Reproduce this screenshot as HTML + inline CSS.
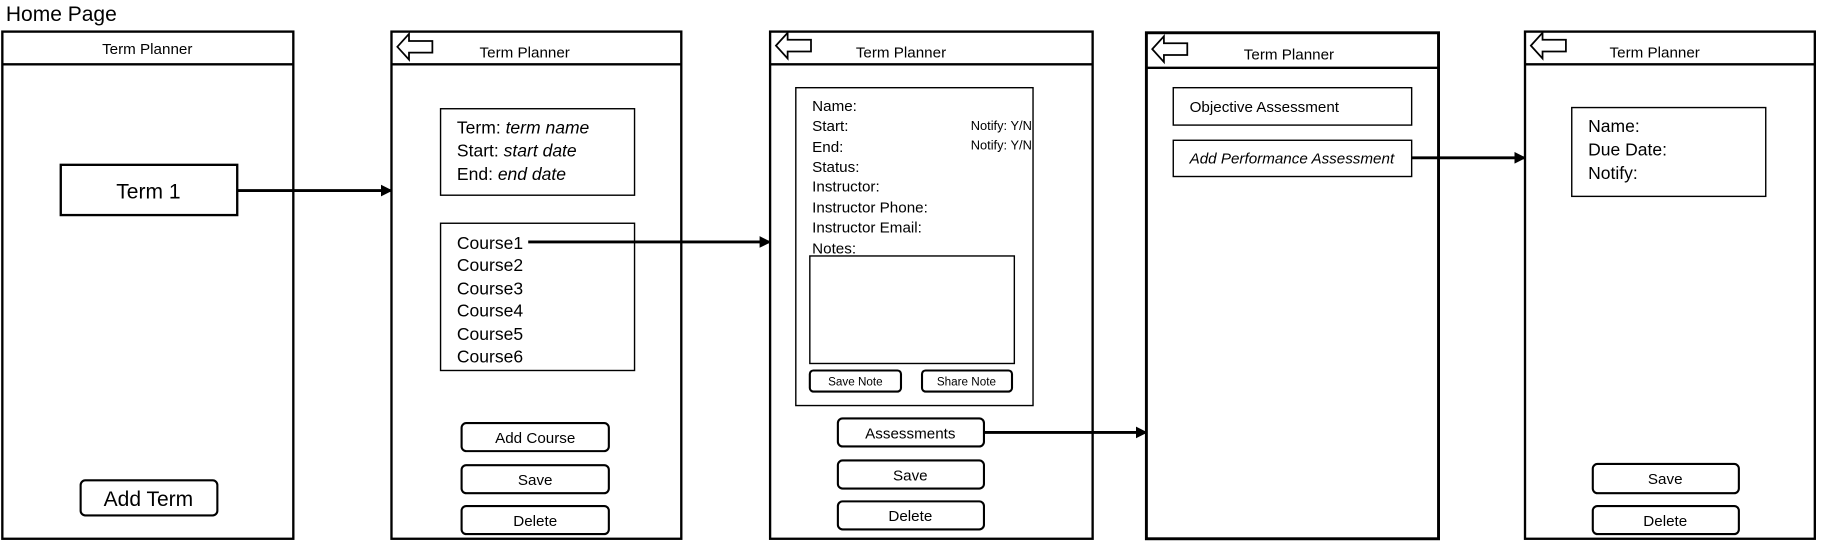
<!DOCTYPE html>
<html><head><meta charset="utf-8"><style>
html,body{margin:0;padding:0;background:#fff;}
svg{display:block;}
text{font-family:"Liberation Sans",sans-serif;fill:#000;}
</style></head><body>
<svg width="1823" height="547" viewBox="0 0 1560 468" xmlns="http://www.w3.org/2000/svg">
<defs>
<marker id="ah" markerWidth="10" markerHeight="10" refX="9" refY="5" orient="auto" markerUnits="userSpaceOnUse">
<path d="M0,0 L10,5 L0,10 Z" fill="#000"/></marker>
<g id="back"><path d="M0,11 L10,0 L10,6 L30,6 L30,16 L10,16 L10,22 Z" fill="#fff" stroke="#000" stroke-width="1.5"/></g>
</defs>
<g fill="none" stroke="#000" stroke-width="2">
<rect x="2" y="27" width="249" height="434"/><line x1="2" y1="55" x2="251" y2="55"/>
<rect x="335" y="27" width="248" height="434"/><line x1="335" y1="55" x2="583" y2="55"/>
<rect x="659" y="27" width="276" height="434"/><line x1="659" y1="55" x2="935" y2="55"/>
<rect x="981" y="28" width="250" height="433" stroke-width="2.5"/><line x1="981" y1="58" x2="1231" y2="58"/>
<rect x="1305" y="27" width="248" height="434"/><line x1="1305" y1="55" x2="1553" y2="55"/>
</g>
<g fill="none" stroke="#000" stroke-width="1.2">
<rect x="52" y="141" width="151" height="43" stroke-width="2"/>
<rect x="377" y="93" width="166" height="74"/>
<rect x="377" y="191" width="166" height="126"/>
<rect x="681" y="75" width="203" height="272"/>
<rect x="693" y="219" width="175" height="92"/>
<rect x="1004" y="75" width="204" height="32"/>
<rect x="1004" y="120" width="204" height="31"/>
<rect x="1345" y="92" width="166" height="76"/>
</g>
<g fill="#fff" stroke="#000" stroke-width="1.8">
<rect x="69" y="411" width="117" height="30" rx="4"/>
<rect x="395" y="362" width="126" height="24" rx="4"/>
<rect x="395" y="398" width="126" height="24" rx="4"/>
<rect x="395" y="433" width="126" height="24" rx="4"/>
<rect x="693" y="317" width="78" height="18" rx="3"/>
<rect x="789" y="317" width="77" height="18" rx="3"/>
<rect x="717" y="358" width="125" height="24" rx="4"/>
<rect x="717" y="394" width="125" height="24" rx="4"/>
<rect x="717" y="429" width="125" height="24" rx="4"/>
<rect x="1363" y="397" width="125" height="25" rx="4"/>
<rect x="1363" y="433" width="125" height="24" rx="4"/>
</g>
<use href="#back" x="340" y="29"/>
<use href="#back" x="664" y="28"/>
<use href="#back" x="986" y="31"/>
<use href="#back" x="1310" y="28"/>
<g stroke="#000" stroke-width="2.5" marker-end="url(#ah)">
<line x1="203" y1="163" x2="335" y2="163"/>
<line x1="452" y1="207" x2="659" y2="207"/>
<line x1="842" y1="370" x2="981" y2="370"/>
<line x1="1208" y1="135" x2="1305" y2="135"/>
</g>
<text x="5" y="18" font-size="18">Home Page</text>
<g font-size="13" text-anchor="middle">
<text x="126" y="46">Term Planner</text>
<text x="449" y="49">Term Planner</text>
<text x="771" y="49">Term Planner</text>
<text x="1103" y="51">Term Planner</text>
<text x="1416" y="49">Term Planner</text>
<text x="458" y="379">Add Course</text>
<text x="458" y="415">Save</text>
<text x="458" y="450">Delete</text>
<text x="779" y="375">Assessments</text>
<text x="779" y="411">Save</text>
<text x="779" y="446">Delete</text>
<text x="1425" y="414">Save</text>
<text x="1425" y="450">Delete</text>
</g>
<g font-size="18" text-anchor="middle">
<text x="127" y="170">Term 1</text>
<text x="127" y="433">Add Term</text>
</g>
<g font-size="15">
<text x="391" y="114">Term: <tspan font-style="italic">term name</tspan></text>
<text x="391" y="134">Start: <tspan font-style="italic">start date</tspan></text>
<text x="391" y="154">End: <tspan font-style="italic">end date</tspan></text>
<text x="391" y="213">Course1</text>
<text x="391" y="232">Course2</text>
<text x="391" y="252">Course3</text>
<text x="391" y="271">Course4</text>
<text x="391" y="291">Course5</text>
<text x="391" y="310">Course6</text>
<text x="1359" y="113">Name:</text>
<text x="1359" y="133">Due Date:</text>
<text x="1359" y="153">Notify:</text>
</g>
<g font-size="13">
<text x="695" y="95">Name:</text>
<text x="695" y="112">Start:</text>
<text x="695" y="130">End:</text>
<text x="695" y="147">Status:</text>
<text x="695" y="164">Instructor:</text>
<text x="695" y="182">Instructor Phone:</text>
<text x="695" y="199">Instructor Email:</text>
<text x="695" y="217">Notes:</text>
<text x="1018" y="96">Objective Assessment</text>
<text x="1018" y="140" font-style="italic">Add Performance Assessment</text>
</g>
<g font-size="11" text-anchor="end">
<text x="883" y="111">Notify: Y/N</text>
<text x="883" y="128">Notify: Y/N</text>
</g>
<g font-size="10" text-anchor="middle">
<text x="732" y="330">Save Note</text>
<text x="827" y="330">Share Note</text>
</g>
</svg>
</body></html>
